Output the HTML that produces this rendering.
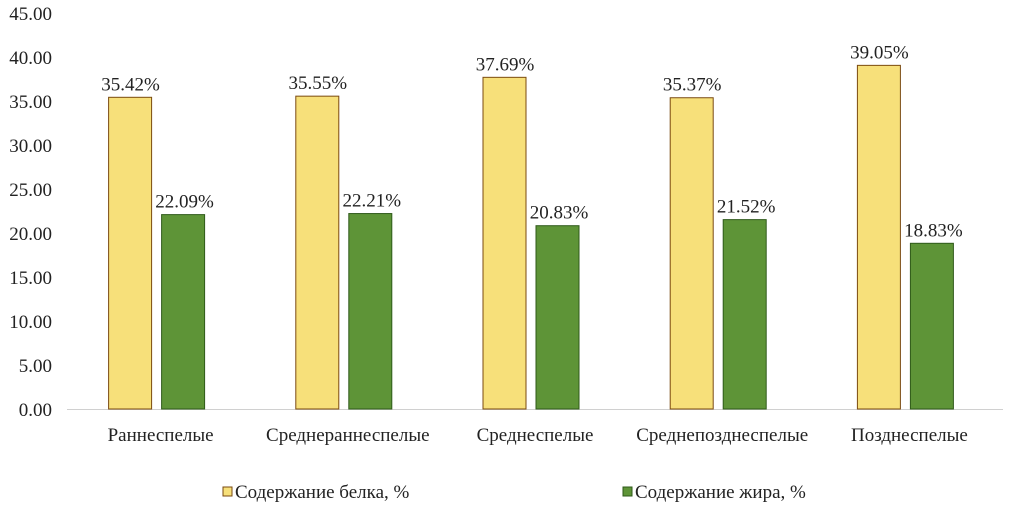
<!DOCTYPE html>
<html><head><meta charset="utf-8"><style>
body{margin:0;background:#fff;}
svg{display:block;font-family:"Liberation Serif",serif;}
</style></head><body>
<svg id="c" width="1016" height="515"></svg>
<script>
const categories=["Раннеспелые","Среднераннеспелые","Среднеспелые","Среднепозднеспелые","Позднеспелые"];
const protein=[35.42,35.55,37.69,35.37,39.05];
const fat=[22.09,22.21,20.83,21.52,18.83];
const ticks=[0,5,10,15,20,25,30,35,40,45];
const NS="http://www.w3.org/2000/svg";
const svg=document.getElementById('c');
const x0=67,x1=1003,y0=409,yTop=13,maxV=45;
const y=v=>y0-(v/maxV)*(y0-yTop);
const bw=(x1-x0)/categories.length;
const cx=i=>x0+bw*(i+0.5);
function mk(t,a){const e=document.createElementNS(NS,t);for(const k in a)e.setAttribute(k,a[k]);svg.appendChild(e);return e;}
ticks.forEach(t=>{
 const e=mk('text',{x:52,y:y(t)+7,'text-anchor':'end','font-size':19,fill:'#222'});
 
 
 e.textContent=t.toFixed(2);
});
const ax=mk('line',{x1:x0,x2:x1,y1:y0+0.5,y2:y0+0.5,stroke:'#d0d0d0','stroke-width':1});


categories.forEach((c,i)=>{
 const c0=cx(i);
 const b1=mk('rect',{x:c0-52,y:y(protein[i]),width:43,height:y0-y(protein[i]),fill:'#f7e07a',stroke:'#7a4a10','stroke-width':1});
 
 
 const b2=mk('rect',{x:c0+1,y:y(fat[i]),width:43,height:y0-y(fat[i]),fill:'#5e9437',stroke:'#2f5a1a','stroke-width':1});
 
 
 const l1=mk('text',{x:c0-30,y:y(protein[i])-7,'text-anchor':'middle','font-size':19,fill:'#222'});
 
 
 l1.textContent=protein[i].toFixed(2)+'%';
 const l2=mk('text',{x:c0+24,y:y(fat[i])-7,'text-anchor':'middle','font-size':19,fill:'#222'});
 
 
 l2.textContent=fat[i].toFixed(2)+'%';
 const cl=mk('text',{x:c0,y:441,'text-anchor':'middle','font-size':19,fill:'#222'});
 
 
 cl.textContent=c;
});
const legend=[["Содержание белка, %",'#f7e07a','#7a4a10',223],["Содержание жира, %",'#5e9437','#2f5a1a',623]];
legend.forEach(([t,f,s,lx])=>{
 const r=mk('rect',{x:lx,y:487,width:9,height:9,fill:f,stroke:s});
 
 
 const tx=mk('text',{x:lx+12,y:498,'font-size':19,fill:'#222'});
 
 
 tx.textContent=t;
});
</script>
</body></html>
